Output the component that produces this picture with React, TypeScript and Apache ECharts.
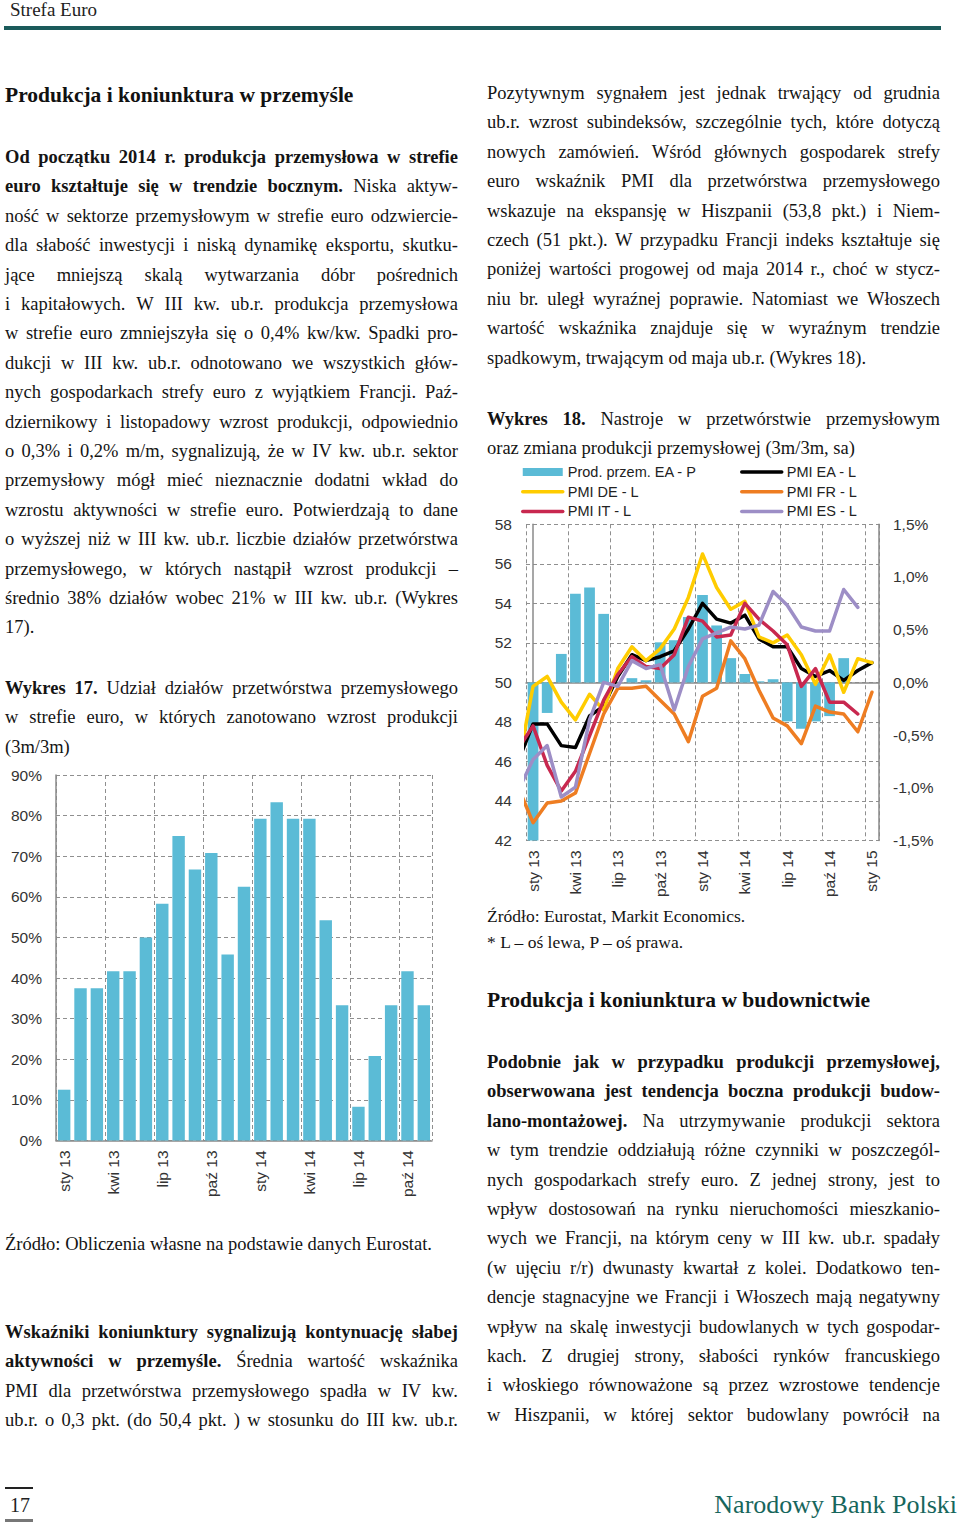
import React, { useEffect, useRef } from 'react';
import * as echarts from 'echarts';

// ---------- DATA ----------
const CAT17 = ['sty 13','lut 13','mar 13','kwi 13','maj 13','cze 13','lip 13','sie 13','wrz 13','paź 13','lis 13','gru 13',
  'sty 14','lut 14','mar 14','kwi 14','maj 14','cze 14','lip 14','sie 14','wrz 14','paź 14','lis 14'];
const SHARE17 = [12.5, 37.5, 37.5, 41.7, 41.7, 50, 58.3, 75, 66.7, 70.8, 45.8, 62.5, 79.2, 83.3, 79.2, 79.2, 54.2, 33.3, 8.3, 20.8, 33.3, 41.7, 33.3];

const CAT18 = ['sty 13','lut 13','mar 13','kwi 13','maj 13','cze 13','lip 13','sie 13','wrz 13','paź 13','lis 13','gru 13',
  'sty 14','lut 14','mar 14','kwi 14','maj 14','cze 14','lip 14','sie 14','wrz 14','paź 14','lis 14','gru 14','sty 15'];
const PROD_EA = [-1.5, -0.29, 0.27, 0.84, 0.9, 0.65, 0.0, 0.04, 0.02, 0.38, 0.4, 0.62, 0.83, 0.54, 0.23, 0.08, 0.01, 0.03, -0.37, -0.44, -0.37, -0.32, 0.23, null, null];
// PMI series: first value = gru 12 (partly visible at the left edge), then sty 13 .. sty 15
const PMI_EA = [46.1, 47.9, 47.9, 46.8, 46.7, 48.3, 48.8, 50.3, 51.4, 51.1, 51.3, 51.6, 52.7, 54.0, 53.2, 53.0, 53.4, 52.2, 51.8, 51.8, 50.7, 50.3, 50.6, 50.1, 50.6, 51.0];
const PMI_DE = [46.0, 49.8, 50.3, 49.0, 48.1, 49.4, 48.6, 50.7, 51.8, 51.1, 51.7, 52.7, 54.3, 56.5, 54.8, 53.7, 54.1, 52.3, 52.0, 52.4, 51.4, 49.9, 51.4, 49.5, 51.2, 51.0];
const PMI_FR = [44.6, 42.9, 43.9, 44.0, 44.4, 46.4, 48.4, 49.7, 49.7, 49.8, 49.1, 48.4, 47.0, 49.3, 49.7, 52.1, 51.2, 49.6, 48.2, 47.8, 46.9, 48.8, 48.5, 48.4, 47.5, 49.5];
const PMI_IT = [46.7, 47.8, 45.8, 44.5, 45.5, 47.3, 49.1, 50.4, 51.3, 50.8, 50.7, 51.4, 53.3, 53.1, 52.3, 52.4, 54.0, 53.2, 52.6, 51.9, 49.8, 50.7, 49.0, 49.0, 48.4, null];
const PMI_ES = [44.6, 46.1, 46.8, 44.2, 44.7, 48.1, 50.0, 49.8, 51.1, 50.7, 50.9, 48.6, 50.8, 52.2, 52.5, 52.8, 52.7, 52.9, 54.6, 53.9, 52.8, 52.6, 52.6, 54.7, 53.8, null];

// ---------- TEXT ----------
const LEFT_P1 = [
  '**Od początku 2014 r. produkcja przemysłowa w strefie**',
  '**euro kształtuje się w trendzie bocznym.** Niska aktyw-',
  'ność w sektorze przemysłowym w strefie euro odzwiercie-',
  'dla słabość inwestycji i niską dynamikę eksportu, skutku-',
  'jące mniejszą skalą wytwarzania dóbr pośrednich',
  'i kapitałowych. W III kw. ub.r. produkcja przemysłowa',
  'w strefie euro zmniejszyła się o 0,4% kw/kw. Spadki pro-',
  'dukcji w III kw. ub.r. odnotowano we wszystkich głów-',
  'nych gospodarkach strefy euro z wyjątkiem Francji. Paź-',
  'dziernikowy i listopadowy wzrost produkcji, odpowiednio',
  'o 0,3% i 0,2% m/m, sygnalizują, że w IV kw. ub.r. sektor',
  'przemysłowy mógł mieć nieznacznie dodatni wkład do',
  'wzrostu aktywności w strefie euro. Potwierdzają to dane',
  'o wyższej niż w III kw. ub.r. liczbie działów przetwórstwa',
  'przemysłowego, w których nastąpił wzrost produkcji –',
  'średnio 38% działów wobec 21% w III kw. ub.r. (Wykres',
  '17).',
];
const LEFT_W17 = [
  '**Wykres 17.** Udział działów przetwórstwa przemysłowego',
  'w strefie euro, w których zanotowano wzrost produkcji',
  '(3m/3m)',
];
const LEFT_SRC17 = ['Źródło: Obliczenia własne na podstawie danych Eurostat.'];
const LEFT_P2 = [
  '**Wskaźniki koniunktury sygnalizują kontynuację słabej**',
  '**aktywności w przemyśle.** Średnia wartość wskaźnika',
  'PMI dla przetwórstwa przemysłowego spadła w IV kw.',
  'ub.r. o 0,3 pkt. (do 50,4 pkt. ) w stosunku do III kw. ub.r.',
];
const RIGHT_P1 = [
  'Pozytywnym sygnałem jest jednak trwający od grudnia',
  'ub.r. wzrost subindeksów, szczególnie tych, które dotyczą',
  'nowych zamówień. Wśród głównych gospodarek strefy',
  'euro wskaźnik PMI dla przetwórstwa przemysłowego',
  'wskazuje na ekspansję w Hiszpanii (53,8 pkt.) i Niem-',
  'czech (51 pkt.). W przypadku Francji indeks kształtuje się',
  'poniżej wartości progowej od maja 2014 r., choć w stycz-',
  'niu br. uległ wyraźnej poprawie. Natomiast we Włoszech',
  'wartość wskaźnika znajduje się w wyraźnym trendzie',
  'spadkowym, trwającym od maja ub.r. (Wykres 18).',
];
const RIGHT_W18 = [
  '**Wykres 18.** Nastroje w przetwórstwie przemysłowym',
  'oraz zmiana produkcji przemysłowej (3m/3m, sa)',
];
const RIGHT_SRC18 = ['Źródło: Eurostat, Markit Economics.', '**\u002A** L – oś lewa, P – oś prawa.'];
const RIGHT_P2 = [
  '**Podobnie jak w przypadku produkcji przemysłowej,**',
  '**obserwowana jest tendencja boczna produkcji budow-**',
  '**lano-montażowej.** Na utrzymywanie produkcji sektora',
  'w tym trendzie oddziałują różne czynniki w poszczegól-',
  'nych gospodarkach strefy euro. Z jednej strony, jest to',
  'wpływ dostosowań na rynku nieruchomości mieszkanio-',
  'wych we Francji, na którym ceny w III kw. ub.r. spadały',
  '(w ujęciu r/r) dwunasty kwartał z kolei. Dodatkowo ten-',
  'dencje stagnacyjne we Francji i Włoszech mają negatywny',
  'wpływ na skalę inwestycji budowlanych w tych gospodar-',
  'kach. Z drugiej strony, słabości rynków francuskiego',
  'i włoskiego równoważone są przez wzrostowe tendencje',
  'w Hiszpanii, w której sektor budowlany powrócił na',
];

// ---------- STYLE ----------
const SERIF = '"Liberation Serif", "Times New Roman", serif';
const SANS = '"Liberation Sans Narrow", "Arial Narrow", "Liberation Sans", Arial, sans-serif';
const BAR_COLOR = '#5BBBD6';
const GRID_COLOR = '#8f8f8f';
const AXIS_COLOR = '#8a8a8a';
const LABEL_COLOR = '#333';

function parseWords(text: string) {
  const parts = text.split('**');
  const words: { w: string; b: boolean }[] = [];
  parts.forEach((p, i) => {
    p.split(' ').filter((s) => s.length > 0).forEach((w) => words.push({ w, b: i % 2 === 1 }));
  });
  return words;
}

function TextBlock(props: { x: number; y0: number; step: number; lines: string[]; justifyAll?: boolean; noJustify?: boolean; size?: number; width?: number }) {
  const { x, y0, step, lines, size = 18.5, width = 453 } = props;
  const lh = 28;
  return (
    <>
      {lines.map((line, i) => {
        const isLast = i === lines.length - 1;
        const justify = props.noJustify ? false : props.justifyAll ? true : !isLast;
        const words = parseWords(line);
        const base: React.CSSProperties = {
          position: 'absolute', left: x, top: y0 + i * step - lh / 2, height: lh, lineHeight: lh + 'px',
          fontFamily: SERIF, fontSize: size, color: '#141414', whiteSpace: 'nowrap',
        };
        if (justify) {
          return (
            <div key={i} style={{ ...base, width, display: 'flex', justifyContent: 'space-between', columnGap: 3 }}>
              {words.map((wd, j) => <span key={j} style={{ fontWeight: wd.b ? 700 : 400 }}>{wd.w}</span>)}
            </div>
          );
        }
        return (
          <div key={i} style={base}>
            {words.map((wd, j) => (
              <React.Fragment key={j}>
                {j > 0 ? ' ' : ''}
                <span style={{ fontWeight: wd.b ? 700 : 400 }}>{wd.w}</span>
              </React.Fragment>
            ))}
          </div>
        );
      })}
    </>
  );
}

function Chart17() {
  const ref = useRef<HTMLDivElement>(null);
  useEffect(() => {
    const chart = echarts.init(ref.current as HTMLDivElement, null, { renderer: 'svg' });
    chart.setOption({
      animation: false,
      grid: { left: 56, right: 28, top: 15, bottom: 58.3 },
      xAxis: {
        type: 'category', data: CAT17, boundaryGap: true,
        axisLine: { show: true, lineStyle: { color: AXIS_COLOR, width: 1.5 } },
        axisTick: { show: false, interval: 2 },
        axisLabel: { interval: 2, rotate: 90, margin: 10, fontFamily: SANS, fontSize: 15.5, color: LABEL_COLOR },
        splitLine: { show: true, interval: 2, lineStyle: { color: GRID_COLOR, type: [4, 3], width: 1 } },
      },
      yAxis: {
        type: 'value', min: 0, max: 90, interval: 10,
        axisLine: { show: true, lineStyle: { color: AXIS_COLOR, width: 1.5 } },
        axisTick: { show: false },
        axisLabel: { formatter: '{value}%', margin: 14, fontFamily: SANS, fontSize: 15.5, color: LABEL_COLOR },
        splitLine: { show: true, lineStyle: { color: GRID_COLOR, type: [4, 3], width: 1 } },
      },
      series: [{ type: 'bar', data: SHARE17, barCategoryGap: '24%', itemStyle: { color: BAR_COLOR } }],
    });
    return () => chart.dispose();
  }, []);
  return <div ref={ref} style={{ position: 'absolute', left: 0, top: 760, width: 460, height: 440 }} />;
}

function Chart18() {
  const ref = useRef<HTMLDivElement>(null);
  useEffect(() => {
    const chart = echarts.init(ref.current as HTMLDivElement, null, { renderer: 'svg' });
    const lineSeries = (name: string, data: (number | null)[], color: string) => ({
      name, type: 'line', xAxisIndex: 1, yAxisIndex: 0,
      data: data.map((v, i) => [i - 1, v]),
      symbol: 'none', showSymbol: false, clip: true, connectNulls: false,
      lineStyle: { color, width: 3.5, cap: 'round', join: 'round' },
      itemStyle: { color },
    });
    const lineItem = (name: string) => ({ name, itemStyle: { opacity: 0 }, lineStyle: { width: 3.5 } });
    const legendText = { fontFamily: SANS, fontSize: 14.5, color: '#222' };
    chart.setOption({
      animation: false,
      legend: [
        { orient: 'vertical', left: 36, top: 9.5, padding: 0, itemWidth: 40, itemHeight: 8, itemGap: 4.7, textStyle: legendText,
          data: [{ name: 'Prod. przem. EA - P', icon: 'rect' }, lineItem('PMI DE - L'), lineItem('PMI IT - L')] },
        { orient: 'vertical', left: 255, top: 9.5, padding: 0, itemWidth: 40, itemHeight: 8, itemGap: 4.7, textStyle: legendText,
          data: [lineItem('PMI EA - L'), lineItem('PMI FR - L'), lineItem('PMI ES - L')] },
      ],
      grid: { left: 41, right: 81, top: 69.3, bottom: 58.3 },
      xAxis: [
        {
          type: 'category', data: CAT18, boundaryGap: true,
          axisLine: { show: true, lineStyle: { color: AXIS_COLOR, width: 1.5 } },
          axisTick: { show: false, interval: 2 },
          axisLabel: { interval: 2, rotate: 90, margin: 10, fontFamily: SANS, fontSize: 15.5, color: LABEL_COLOR },
          splitLine: { show: true, interval: 2, lineStyle: { color: GRID_COLOR, type: [4, 3], width: 1 } },
        },
        { type: 'value', min: -0.5, max: 24.5, show: false },
      ],
      yAxis: [
        {
          type: 'value', min: 42, max: 58, interval: 2, position: 'left',
          axisLine: { show: true, lineStyle: { color: AXIS_COLOR, width: 1.5 } },
          axisTick: { show: false },
          axisLabel: { margin: 14, fontFamily: SANS, fontSize: 15.5, color: LABEL_COLOR },
          splitLine: { show: true, lineStyle: { color: GRID_COLOR, type: [4, 3], width: 1 } },
        },
        {
          type: 'value', min: -1.5, max: 1.5, interval: 0.5, position: 'right',
          axisLine: { show: true, lineStyle: { color: AXIS_COLOR, width: 1.5 } },
          axisTick: { show: false },
          axisLabel: { margin: 14, fontFamily: SANS, fontSize: 15.5, color: LABEL_COLOR,
            formatter: (v: number) => v.toFixed(1).replace('.', ',') + '%' },
          splitLine: { show: false },
        },
      ],
      series: [
        { name: 'Prod. przem. EA - P', type: 'bar', xAxisIndex: 0, yAxisIndex: 1, data: PROD_EA,
          barCategoryGap: '24%', itemStyle: { color: BAR_COLOR } },
        lineSeries('PMI EA - L', PMI_EA, '#000000'),
        lineSeries('PMI DE - L', PMI_DE, '#FFCC00'),
        lineSeries('PMI FR - L', PMI_FR, '#EE7D22'),
        lineSeries('PMI IT - L', PMI_IT, '#C8284F'),
        lineSeries('PMI ES - L', PMI_ES, '#9D8EC6'),
      ],
    });
    return () => chart.dispose();
  }, []);
  return <div ref={ref} style={{ position: 'absolute', left: 485, top: 455, width: 475, height: 445 }} />;
}

export default function App() {
  const heading: React.CSSProperties = { position: 'absolute', fontFamily: SERIF, fontWeight: 700, fontSize: 21.5, color: '#111', whiteSpace: 'nowrap', lineHeight: '28px', height: 28 };
  return (
    <div style={{ position: 'absolute', left: 0, top: 0, width: 960, height: 1522, background: '#fff', overflow: 'hidden' }}>
      <div style={{ position: 'absolute', left: 10, top: -4, fontFamily: SERIF, fontSize: 19, color: '#222', lineHeight: '28px' }}>Strefa Euro</div>
      <div style={{ position: 'absolute', left: 4, top: 26, width: 937, height: 4, background: '#1b5b5b' }} />

      <div style={{ ...heading, left: 5, top: 95 - 14 }}>Produkcja i koniunktura w przemyśle</div>
      <TextBlock x={5} y0={157} step={29.4} lines={LEFT_P1} />
      <TextBlock x={5} y0={688} step={29.3} lines={LEFT_W17} />
      <Chart17 />
      <TextBlock x={5} y0={1244} step={29.4} lines={LEFT_SRC17} noJustify />
      <TextBlock x={5} y0={1332} step={29.4} lines={LEFT_P2} justifyAll />

      <TextBlock x={487} y0={93} step={29.4} lines={RIGHT_P1} />
      <TextBlock x={487} y0={419} step={29.3} lines={RIGHT_W18} />
      <Chart18 />
      <TextBlock x={487} y0={916} step={26} lines={RIGHT_SRC18} size={17.5} noJustify />
      <div style={{ ...heading, left: 487, top: 1000 - 14 }}>Produkcja i koniunktura w budownictwie</div>
      <TextBlock x={487} y0={1062} step={29.4} lines={RIGHT_P2} justifyAll />

      <div style={{ position: 'absolute', left: 5, top: 1487, width: 28, height: 1.5, background: '#222' }} />
      <div style={{ position: 'absolute', left: 10, top: 1491, fontFamily: SERIF, fontSize: 20, color: '#222', lineHeight: '28px' }}>17</div>
      <div style={{ position: 'absolute', left: 5, top: 1519, width: 28, height: 3, background: '#777' }} />
      <div style={{ position: 'absolute', right: 3, top: 1488, fontFamily: SERIF, fontSize: 26, color: '#17665c', lineHeight: '34px', whiteSpace: 'nowrap' }}>Narodowy Bank Polski</div>
    </div>
  );
}
